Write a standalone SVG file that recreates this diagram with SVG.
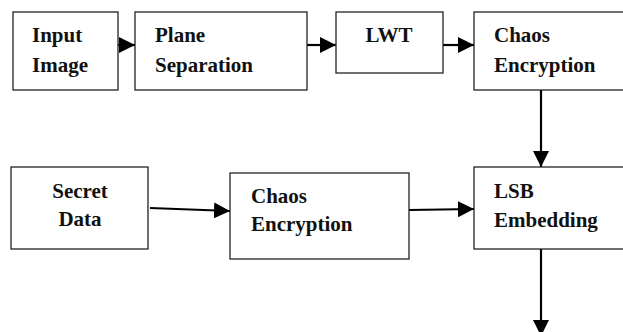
<svg xmlns="http://www.w3.org/2000/svg" width="623" height="332" viewBox="0 0 623 332">
<defs>
<style>
.box{fill:#fff;stroke:#222;stroke-width:1.3}
.t{font-family:'Liberation Serif',serif;font-weight:bold;font-size:21px;fill:#111}
.c{stroke:#000;stroke-width:2.2;fill:none}
</style>
<marker id="ah" markerUnits="userSpaceOnUse" markerWidth="17" markerHeight="16" refX="16" refY="8" orient="auto" viewBox="0 0 17 16">
<path d="M0,0 L16,8 L0,16 z" fill="#000"/>
</marker>
</defs>
<rect width="623" height="332" fill="#fff"/>
<g id="connectors">
<line class="c" x1="118" y1="45" x2="135" y2="45" marker-end="url(#ah)"/>
<line class="c" x1="307" y1="45" x2="336" y2="45" marker-end="url(#ah)"/>
<line class="c" x1="443" y1="45" x2="474" y2="45" marker-end="url(#ah)"/>
<line class="c" x1="541" y1="90" x2="541" y2="167" marker-end="url(#ah)"/>
<line class="c" x1="150" y1="208" x2="230" y2="211" marker-end="url(#ah)"/>
<line class="c" x1="409" y1="210" x2="474" y2="209" marker-end="url(#ah)"/>
<line class="c" x1="541" y1="249" x2="541" y2="336" marker-end="url(#ah)"/>
</g>
<g id="input-image">
<rect class="box" x="13" y="12" width="105" height="78"/>
<text class="t" x="32" y="42">Input</text>
<text class="t" x="32" y="72">Image</text>
</g>
<g id="plane-separation">
<rect class="box" x="135" y="12" width="172" height="78"/>
<text class="t" x="155" y="42">Plane</text>
<text class="t" x="155" y="72">Separation</text>
</g>
<g id="lwt">
<rect class="box" x="336" y="12" width="107" height="61"/>
<text class="t" x="389" y="42" text-anchor="middle">LWT</text>
</g>
<g id="chaos-encryption-1">
<rect class="box" x="474" y="12" width="160" height="78"/>
<text class="t" x="494" y="42">Chaos</text>
<text class="t" x="494" y="72">Encryption</text>
</g>
<g id="secret-data">
<rect class="box" x="11" y="167" width="137" height="82"/>
<text class="t" x="80" y="198" text-anchor="middle">Secret</text>
<text class="t" x="80" y="226" text-anchor="middle">Data</text>
</g>
<g id="chaos-encryption-2">
<rect class="box" x="230" y="173" width="179" height="86"/>
<text class="t" x="251" y="203">Chaos</text>
<text class="t" x="251" y="231">Encryption</text>
</g>
<g id="lsb-embedding">
<rect class="box" x="474" y="167" width="160" height="82"/>
<text class="t" x="494" y="198">LSB</text>
<text class="t" x="494" y="227">Embedding</text>
</g>
</svg>
